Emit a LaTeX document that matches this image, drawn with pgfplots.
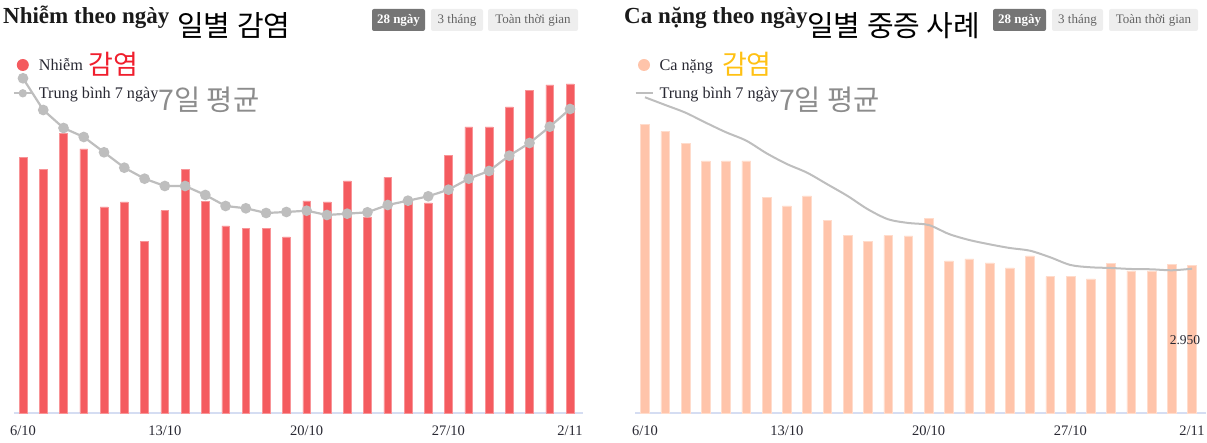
\documentclass[border=0pt]{standalone}
\usepackage{pgfplots}
\usepackage{pgfplotstable}
\pgfplotsset{compat=1.18}
\usepackage{fontspec}
\setmainfont{Liberation Serif}
\newfontfamily\kr{Noto Sans CJK KR}
\definecolor{barred}{RGB}{244,91,95}
\definecolor{barpeach}{RGB}{255,196,170}
\definecolor{avggray}{RGB}{190,190,190}
\definecolor{axlav}{RGB}{213,221,242}
\definecolor{krred}{RGB}{240,30,45}
\definecolor{kryellow}{RGB}{255,193,20}
\definecolor{krgray}{RGB}{140,140,140}
\definecolor{titletext}{RGB}{26,26,26}
\definecolor{legtext}{RGB}{40,40,50}
\definecolor{btndark}{RGB}{117,117,117}
\definecolor{btnlight}{RGB}{238,238,238}
\definecolor{btntext}{RGB}{100,100,100}

\pgfplotstableread{
i v
0 255.3
1 243.3
2 279.3
3 264
4 206
5 211
6 171.7
7 202.3
8 243.3
9 211.7
10 187
11 184.7
12 184.7
13 176
14 212
15 211
16 232
17 196
18 235.7
19 211.3
20 210
21 257.7
22 286
23 286
24 306
25 322.3
26 328
27 329
}\leftbars

\pgfplotstableread{
i v
0 334.7
1 303
2 285
3 276
4 260.7
5 245.3
6 234.3
7 227
8 227
9 218
10 207
11 204.7
12 200
13 201
14 202.3
15 198
16 199.3
17 200.7
18 208
19 212.3
20 216.7
21 223.3
22 234.3
23 242
24 257.3
25 270
26 286.3
27 304
}\leftavg

\pgfplotstableread{
i v
0 288.3
1 281.7
2 269.7
3 252
4 252
5 252
6 215.7
7 207
8 217
9 192.7
10 177.3
11 171.7
12 177.3
13 177
14 194.7
15 152
16 154
17 150
18 145
19 157
20 136.3
21 136.3
22 134
23 149.7
24 142
25 142
26 148.3
27 147.3
}\rightbars

\pgfplotstableread{
i v
0 315.7
1 308
2 300.3
3 290.3
4 280.7
5 272.3
6 259.7
7 249
8 240.3
9 228.7
10 217
11 203.7
12 193.7
13 190
14 188
15 179
16 173
17 168.7
18 165
19 162.3
20 155.7
21 148
22 145.7
23 145
24 144
25 143.7
26 142.7
27 144.3
}\rightavg

\pgfplotsset{chartbase/.style={
  scale only axis, height=353pt, ymin=0, ymax=353,
  axis x line*=bottom, axis y line=none, ytick=\empty,
  x axis line style={draw=axlav, line width=1.5pt},
  xtick={0,7,14,21,27},
  xticklabels={6/10,13/10,20/10,27/10,2/11},
  major tick length=0pt,
  xticklabel style={font=\fontsize{14.5}{14.5}\selectfont, text=legtext, anchor=base, yshift=-23pt, inner sep=0pt},
  clip=false,
  legend cell align=left,
  legend style={draw=none, fill=none, inner sep=0pt, outer sep=0pt, anchor=north west,
    column sep=6pt, row sep=11.3pt, font=\fontsize{16.2}{16.2}\selectfont, text=legtext,
    nodes={inner sep=0pt, text height=14pt, text depth=3pt}},
}}

\begin{document}
\begin{tikzpicture}[x=1pt,y=1pt]
\useasboundingbox (0,0) rectangle (1207,443);

% Titles
\node[anchor=base west, inner sep=0, text=titletext] at (3,419) {\fontsize{23}{23}\selectfont\bfseries Nhiễm theo ngày};
\node[anchor=base west, inner sep=0, text=black] at (177,406) {\kr\fontsize{29}{29}\selectfont 일별 감염};
\node[anchor=base west, inner sep=0, text=titletext] at (624,419) {\fontsize{23}{23}\selectfont\bfseries Ca nặng theo ngày};
\node[anchor=base west, inner sep=0, text=black] at (807,406) {\kr\fontsize{29}{29}\selectfont 일별 중증 사례};

% Buttons left
\fill[btndark, rounded corners=2pt] (372,412) rectangle (425,434);
\node[anchor=base, inner sep=0, text=white] at (398.5,419) {\fontsize{13}{13}\selectfont\bfseries 28 ngày};
\fill[btnlight, rounded corners=2pt] (431,412) rectangle (483,434);
\node[anchor=base, inner sep=0, text=btntext] at (457,419) {\fontsize{13}{13}\selectfont 3 tháng};
\fill[btnlight, rounded corners=2pt] (488,412) rectangle (578,434);
\node[anchor=base, inner sep=0, text=btntext] at (533,419) {\fontsize{13}{13}\selectfont Toàn thời gian};
% Buttons right
\fill[btndark, rounded corners=2pt] (993,412) rectangle (1046,434);
\node[anchor=base, inner sep=0, text=white] at (1019.5,419) {\fontsize{13}{13}\selectfont\bfseries 28 ngày};
\fill[btnlight, rounded corners=2pt] (1052,412) rectangle (1103,434);
\node[anchor=base, inner sep=0, text=btntext] at (1077.5,419) {\fontsize{13}{13}\selectfont 3 tháng};
\fill[btnlight, rounded corners=2pt] (1109,412) rectangle (1198,434);
\node[anchor=base, inner sep=0, text=btntext] at (1153.5,419) {\fontsize{13}{13}\selectfont Toàn thời gian};

% Left chart
\begin{axis}[chartbase, at={(14pt,30pt)}, anchor=south west, width=569pt,
  xmin=-0.444, xmax=27.64,
  legend style={at={(axis cs:-0.508,356.5)}}]
\addplot[ybar, bar width=7.7pt, fill=barred, draw=barred!65!white, line width=0.5pt,
  legend image code/.code={\path[draw=none,fill=none] (-9pt,-6pt) rectangle (9pt,6pt); \fill[barred, draw=none] (0pt,0pt) circle (6pt);}]
  table[x=i,y=v] {\leftbars};
\addlegendentry{Nhiễm\hspace{5.5pt}{\kr\fontsize{27}{27}\selectfont\color{krred}\raisebox{-4pt}{감염}}}
\addplot[avggray, line width=2.2pt, mark=*, mark size=4.2pt, mark options={draw=none, fill=avggray},
  legend image code/.code={\path[draw=none,fill=none] (-9pt,-6pt) rectangle (9pt,6pt); \draw[avggray, line width=2.2pt] (-9pt,0pt)--(9pt,0pt); \fill[avggray, draw=none] (0pt,0pt) circle (4.2pt);}]
  table[x=i,y=v] {\leftavg};
\addlegendentry{Trung bình 7 ngày{\kr\fontsize{28.5}{28.5}\selectfont\color{krgray}\raisebox{-12pt}{7일 평균}}}
\end{axis}

% Right chart
\begin{axis}[chartbase, at={(635pt,30pt)}, anchor=south west, width=571pt,
  xmin=-0.494, xmax=27.69,
  legend style={at={(axis cs:-0.518,356.5)}}]
\addplot[ybar, bar width=8.7pt, fill=barpeach, draw=barpeach!60!white, line width=0.5pt,
  legend image code/.code={\path[draw=none,fill=none] (-9pt,-6pt) rectangle (9pt,6pt); \fill[barpeach, draw=none] (0pt,0pt) circle (6pt);}]
  table[x=i,y=v] {\rightbars};
\addlegendentry{Ca nặng\hspace{9pt}{\kr\fontsize{27}{27}\selectfont\color{kryellow}\raisebox{-4pt}{감염}}}
\addplot[avggray, line width=2pt, smooth, no markers,
  legend image code/.code={\path[draw=none,fill=none] (-9pt,-6pt) rectangle (9pt,6pt); \draw[avggray, line width=2pt] (-8.5pt,0pt)--(8.5pt,0pt);}]
  table[x=i,y=v] {\rightavg};
\addlegendentry{Trung bình 7 ngày{\kr\fontsize{28.5}{28.5}\selectfont\color{krgray}\raisebox{-12pt}{7일 평균}}}
\node[font=\fontsize{13.5}{13.5}\selectfont, text=legtext] at (axis cs:26.65,73) {2.950};
\end{axis}
\end{tikzpicture}
\end{document}
